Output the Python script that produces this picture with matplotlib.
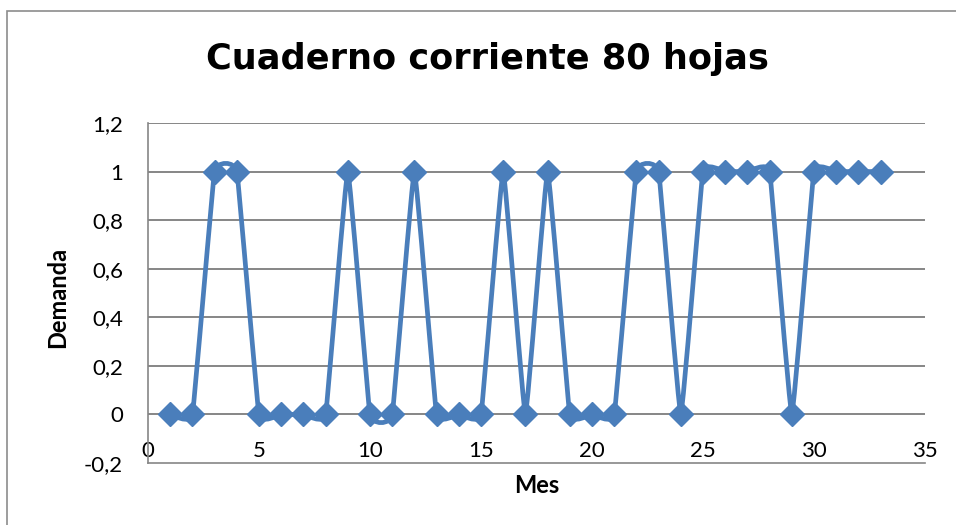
import numpy as np
import matplotlib
matplotlib.use("Agg")
import matplotlib.pyplot as plt
from matplotlib.path import Path
from matplotlib.patches import PathPatch, Rectangle

# ---- data ----
meses = list(range(1, 34))
demanda = [0, 0, 1, 1, 0, 0, 0, 0, 1, 0, 0, 1, 0, 0, 0, 1, 0, 1, 0, 0, 0,
           1, 1, 0, 1, 1, 1, 1, 0, 1, 1, 1, 1]
yticks = [-0.2, 0, 0.2, 0.4, 0.6, 0.8, 1, 1.2]
ytick_labels = ["-0,2", "0", "0,2", "0,4", "0,6", "0,8", "1", "1,2"]
xticks = [0, 5, 10, 15, 20, 25, 30, 35]
title = "Cuaderno corriente 80 hojas"
xlabel = "Mes"
ylabel = "Demanda"

plt.rcParams['font.family'] = ['Lato', 'DejaVu Sans']
W, H = 956, 525
fig = plt.figure(figsize=(W / 100, H / 100), dpi=100)
L, R, T, B = 148, 925, 123, 463
ax = fig.add_axes([L / W, 1 - B / H, (R - L) / W, (B - T) / H])
ax.set_xlim(0, 35)
ax.set_ylim(-0.2, 1.2)

grid_c = "#868686"
for s in ['top', 'right']:
    ax.spines[s].set_visible(False)
for s in ['left', 'bottom']:
    ax.spines[s].set_color(grid_c)
    ax.spines[s].set_linewidth(1.2)
ax.set_yticks(yticks)
ax.set_yticklabels(ytick_labels)
ax.set_xticks(xticks)
ax.set_xticklabels([str(v) for v in xticks])
ax.tick_params(axis='y', length=0, pad=18, labelsize=16)
ax.tick_params(axis='x', length=0, pad=-15.5, labelsize=16)
for y in yticks[1:]:
    ax.axhline(y, color=grid_c, lw=1.4, zorder=1)

# ---- Excel-like smoothed line (Bezier in screen space) ----
color = "#4A7EBB"
pts = ax.transData.transform(np.column_stack([meses, demanda]))
n = len(pts)
k = 0.045
verts = [pts[0]]
codes = [Path.MOVETO]
def tangent(i):
    a = pts[max(i - 1, 0)]
    b = pts[min(i + 1, n - 1)]
    return b - a
for i in range(n - 1):
    p0, p1 = pts[i], pts[i + 1]
    c1 = p0 + tangent(i) * k
    c2 = p1 - tangent(i + 1) * k
    verts += [c1, c2, p1]
    codes += [Path.CURVE4] * 3
inv = ax.transData.inverted()
dverts = inv.transform(np.array(verts))
patch = PathPatch(Path(dverts, codes), facecolor='none', edgecolor=color,
                  lw=3.4, zorder=3, capstyle='round', joinstyle='round')
ax.add_patch(patch)
ax.plot(meses, demanda, linestyle='none', marker='D', markersize=12.5,
        color=color, zorder=4, clip_on=False)

# ---- texts ----
fig.text(487 / W, 1 - 69 / H, title, ha='center', va='baseline',
         fontsize=25.3, fontweight='bold', family=['DejaVu Sans'])
fig.text(537 / W, 1 - 493 / H, xlabel, ha='center', va='baseline',
         fontsize=17, fontweight='bold')
fig.text(58 / W, 1 - 297 / H, ylabel, ha='center', va='center',
         fontsize=17, fontweight='bold', rotation=90)

# chart border
fig.patches.append(Rectangle((7 / W, -0.1), 1.2, 1 - 11 / H + 0.1,
                             transform=fig.transFigure, fill=False,
                             edgecolor="#8c8c8c", lw=1.2))

fig.savefig("out.png", dpi=100)
